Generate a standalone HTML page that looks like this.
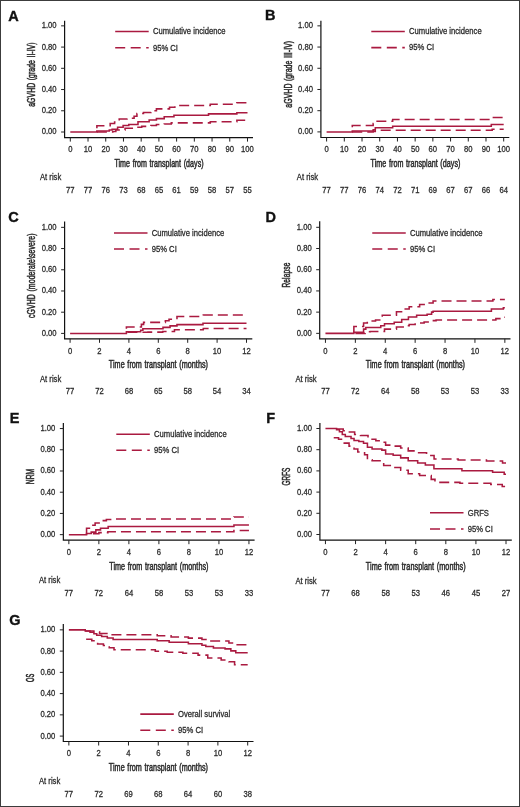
<!DOCTYPE html>
<html><head><meta charset="utf-8"><style>
html,body{margin:0;padding:0;background:#fff;}
body{width:520px;height:807px;overflow:hidden;}
svg{display:block;font-family:"Liberation Sans",sans-serif;will-change:transform;}
</style></head><body>
<svg width="520" height="807" viewBox="0 0 520 807">
<rect x="0.5" y="0.5" width="519" height="806" fill="#fff" stroke="#3c3c3c" stroke-width="1"/>
<text x="8.3" y="20.7" font-size="14.5" fill="#111" font-weight="bold" stroke="#111" stroke-width="0.35" >A</text>
<path d="M64.6 20.8V137.6H253" fill="none" stroke="#111" stroke-width="1.2"/>
<text transform="translate(56.6 134.47) scale(1 1.08)" font-size="7.65" text-anchor="end" fill="#2b2b2b" stroke="#2b2b2b" stroke-width="0.25" >0.00</text>
<text transform="translate(56.6 113.24) scale(1 1.08)" font-size="7.65" text-anchor="end" fill="#2b2b2b" stroke="#2b2b2b" stroke-width="0.25" >0.20</text>
<text transform="translate(56.6 92.01) scale(1 1.08)" font-size="7.65" text-anchor="end" fill="#2b2b2b" stroke="#2b2b2b" stroke-width="0.25" >0.40</text>
<text transform="translate(56.6 70.78) scale(1 1.08)" font-size="7.65" text-anchor="end" fill="#2b2b2b" stroke="#2b2b2b" stroke-width="0.25" >0.60</text>
<text transform="translate(56.6 49.55) scale(1 1.08)" font-size="7.65" text-anchor="end" fill="#2b2b2b" stroke="#2b2b2b" stroke-width="0.25" >0.80</text>
<text transform="translate(56.6 28.32) scale(1 1.08)" font-size="7.65" text-anchor="end" fill="#2b2b2b" stroke="#2b2b2b" stroke-width="0.25" >1.00</text>
<text transform="translate(70.3 152.27) scale(1 1.08)" font-size="7.65" text-anchor="middle" fill="#2b2b2b" stroke="#2b2b2b" stroke-width="0.25" >0</text>
<text transform="translate(70.3 192.87) scale(1 1.08)" font-size="7.65" text-anchor="middle" fill="#2b2b2b" stroke="#2b2b2b" stroke-width="0.25" >77</text>
<text transform="translate(88.02 152.27) scale(1 1.08)" font-size="7.65" text-anchor="middle" fill="#2b2b2b" stroke="#2b2b2b" stroke-width="0.25" >10</text>
<text transform="translate(88.02 192.87) scale(1 1.08)" font-size="7.65" text-anchor="middle" fill="#2b2b2b" stroke="#2b2b2b" stroke-width="0.25" >77</text>
<text transform="translate(105.74 152.27) scale(1 1.08)" font-size="7.65" text-anchor="middle" fill="#2b2b2b" stroke="#2b2b2b" stroke-width="0.25" >20</text>
<text transform="translate(105.74 192.87) scale(1 1.08)" font-size="7.65" text-anchor="middle" fill="#2b2b2b" stroke="#2b2b2b" stroke-width="0.25" >76</text>
<text transform="translate(123.46 152.27) scale(1 1.08)" font-size="7.65" text-anchor="middle" fill="#2b2b2b" stroke="#2b2b2b" stroke-width="0.25" >30</text>
<text transform="translate(123.46 192.87) scale(1 1.08)" font-size="7.65" text-anchor="middle" fill="#2b2b2b" stroke="#2b2b2b" stroke-width="0.25" >73</text>
<text transform="translate(141.18 152.27) scale(1 1.08)" font-size="7.65" text-anchor="middle" fill="#2b2b2b" stroke="#2b2b2b" stroke-width="0.25" >40</text>
<text transform="translate(141.18 192.87) scale(1 1.08)" font-size="7.65" text-anchor="middle" fill="#2b2b2b" stroke="#2b2b2b" stroke-width="0.25" >68</text>
<text transform="translate(158.9 152.27) scale(1 1.08)" font-size="7.65" text-anchor="middle" fill="#2b2b2b" stroke="#2b2b2b" stroke-width="0.25" >50</text>
<text transform="translate(158.9 192.87) scale(1 1.08)" font-size="7.65" text-anchor="middle" fill="#2b2b2b" stroke="#2b2b2b" stroke-width="0.25" >65</text>
<text transform="translate(176.62 152.27) scale(1 1.08)" font-size="7.65" text-anchor="middle" fill="#2b2b2b" stroke="#2b2b2b" stroke-width="0.25" >60</text>
<text transform="translate(176.62 192.87) scale(1 1.08)" font-size="7.65" text-anchor="middle" fill="#2b2b2b" stroke="#2b2b2b" stroke-width="0.25" >61</text>
<text transform="translate(194.34 152.27) scale(1 1.08)" font-size="7.65" text-anchor="middle" fill="#2b2b2b" stroke="#2b2b2b" stroke-width="0.25" >70</text>
<text transform="translate(194.34 192.87) scale(1 1.08)" font-size="7.65" text-anchor="middle" fill="#2b2b2b" stroke="#2b2b2b" stroke-width="0.25" >59</text>
<text transform="translate(212.06 152.27) scale(1 1.08)" font-size="7.65" text-anchor="middle" fill="#2b2b2b" stroke="#2b2b2b" stroke-width="0.25" >80</text>
<text transform="translate(212.06 192.87) scale(1 1.08)" font-size="7.65" text-anchor="middle" fill="#2b2b2b" stroke="#2b2b2b" stroke-width="0.25" >58</text>
<text transform="translate(229.78 152.27) scale(1 1.08)" font-size="7.65" text-anchor="middle" fill="#2b2b2b" stroke="#2b2b2b" stroke-width="0.25" >90</text>
<text transform="translate(229.78 192.87) scale(1 1.08)" font-size="7.65" text-anchor="middle" fill="#2b2b2b" stroke="#2b2b2b" stroke-width="0.25" >57</text>
<text transform="translate(247.5 152.27) scale(1 1.08)" font-size="7.65" text-anchor="middle" fill="#2b2b2b" stroke="#2b2b2b" stroke-width="0.25" >100</text>
<text transform="translate(247.5 192.87) scale(1 1.08)" font-size="7.65" text-anchor="middle" fill="#2b2b2b" stroke="#2b2b2b" stroke-width="0.25" >55</text>
<path d="M61.1 132H64.6M61.1 110.77H64.6M61.1 89.54H64.6M61.1 68.31H64.6M61.1 47.08H64.6M61.1 25.85H64.6M70.3 137.6V141.6M88.02 137.6V141.6M105.74 137.6V141.6M123.46 137.6V141.6M141.18 137.6V141.6M158.9 137.6V141.6M176.62 137.6V141.6M194.34 137.6V141.6M212.06 137.6V141.6M229.78 137.6V141.6M247.5 137.6V141.6" fill="none" stroke="#222" stroke-width="1"/>
<text transform="translate(40 180.47) scale(1 1.08)" font-size="7.65" fill="#2b2b2b" stroke="#2b2b2b" stroke-width="0.25" >At risk</text>
<text transform="translate(114.4 166.7) scale(0.7099 1)" font-size="10.0" fill="#2b2b2b" stroke="#2b2b2b" stroke-width="0.493" word-spacing="0.8" textLength="125.65" lengthAdjust="spacing">Time from transplant (days)</text>
<text transform="translate(34.6 106.8) rotate(-90) scale(0.6897 1)" font-size="10.0" fill="#2b2b2b" stroke="#2b2b2b" stroke-width="0.507" word-spacing="0.8" textLength="93.38" lengthAdjust="spacing">aGVHD (grade II-IV)</text>
<path d="M115.2 31.5H148.7" stroke="#aa1a40" stroke-width="1.55" fill="none"/>
<path d="M115.2 47.7H148.7" stroke="#aa1a40" stroke-width="1.55" fill="none" stroke-dasharray="10 5.5"/>
<text transform="translate(152.9 34.37) scale(1 1.08)" font-size="7.65" fill="#2b2b2b" stroke="#2b2b2b" stroke-width="0.25" >Cumulative incidence</text>
<text transform="translate(152.9 50.57) scale(1 1.08)" font-size="7.65" fill="#2b2b2b" stroke="#2b2b2b" stroke-width="0.25" >95% CI</text>
<path d="M96.88 128.28H96.88V125.84H110.17V123.51H114.6V121.92H119.21V119.05H127V118.2H134.09V116.29H136.93V113.53H143.48V112.57H150.93V110.77H156.42V108.86H169.53V107.16H174.85V105.57H210.29V104.19H236.87V102.81H247.5" stroke="#aa1a40" stroke-width="1.55" fill="none" stroke-dasharray="10 5"/>
<path d="M96.88 132H112.83V131.47H115.84V129.98H125.05V128.18H134.09V127.33H141.71V126.37H150.93V125.52H156.42V124.57H164.22V123.93H171.3V122.87H210.29V121.7H236.87V120.32H247.5" stroke="#aa1a40" stroke-width="1.55" fill="none" stroke-dasharray="10 5"/>
<path d="M70.3 132H96.88V130.94H109.28V130.09H112.12V129.24H117.61V127.33H123.11V125.52H128.78V124.57H137.99V121.81H149.15V120.01H156.42V118.63H164.22V116.82H173.96V115.23H208.52V113.85H236.87V112.68H247.5" stroke="#aa1a40" stroke-width="1.55" fill="none"/>
<text x="265.1" y="20.4" font-size="14.5" fill="#111" font-weight="bold" stroke="#111" stroke-width="0.35" >B</text>
<path d="M320.9 20.8V137.5H509.3" fill="none" stroke="#111" stroke-width="1.2"/>
<text transform="translate(312.9 134.37) scale(1 1.08)" font-size="7.65" text-anchor="end" fill="#2b2b2b" stroke="#2b2b2b" stroke-width="0.25" >0.00</text>
<text transform="translate(312.9 113.16) scale(1 1.08)" font-size="7.65" text-anchor="end" fill="#2b2b2b" stroke="#2b2b2b" stroke-width="0.25" >0.20</text>
<text transform="translate(312.9 91.95) scale(1 1.08)" font-size="7.65" text-anchor="end" fill="#2b2b2b" stroke="#2b2b2b" stroke-width="0.25" >0.40</text>
<text transform="translate(312.9 70.74) scale(1 1.08)" font-size="7.65" text-anchor="end" fill="#2b2b2b" stroke="#2b2b2b" stroke-width="0.25" >0.60</text>
<text transform="translate(312.9 49.53) scale(1 1.08)" font-size="7.65" text-anchor="end" fill="#2b2b2b" stroke="#2b2b2b" stroke-width="0.25" >0.80</text>
<text transform="translate(312.9 28.32) scale(1 1.08)" font-size="7.65" text-anchor="end" fill="#2b2b2b" stroke="#2b2b2b" stroke-width="0.25" >1.00</text>
<text transform="translate(326.6 152.27) scale(1 1.08)" font-size="7.65" text-anchor="middle" fill="#2b2b2b" stroke="#2b2b2b" stroke-width="0.25" >0</text>
<text transform="translate(326.6 192.87) scale(1 1.08)" font-size="7.65" text-anchor="middle" fill="#2b2b2b" stroke="#2b2b2b" stroke-width="0.25" >77</text>
<text transform="translate(344.31 152.27) scale(1 1.08)" font-size="7.65" text-anchor="middle" fill="#2b2b2b" stroke="#2b2b2b" stroke-width="0.25" >10</text>
<text transform="translate(344.31 192.87) scale(1 1.08)" font-size="7.65" text-anchor="middle" fill="#2b2b2b" stroke="#2b2b2b" stroke-width="0.25" >77</text>
<text transform="translate(362.02 152.27) scale(1 1.08)" font-size="7.65" text-anchor="middle" fill="#2b2b2b" stroke="#2b2b2b" stroke-width="0.25" >20</text>
<text transform="translate(362.02 192.87) scale(1 1.08)" font-size="7.65" text-anchor="middle" fill="#2b2b2b" stroke="#2b2b2b" stroke-width="0.25" >76</text>
<text transform="translate(379.73 152.27) scale(1 1.08)" font-size="7.65" text-anchor="middle" fill="#2b2b2b" stroke="#2b2b2b" stroke-width="0.25" >30</text>
<text transform="translate(379.73 192.87) scale(1 1.08)" font-size="7.65" text-anchor="middle" fill="#2b2b2b" stroke="#2b2b2b" stroke-width="0.25" >74</text>
<text transform="translate(397.44 152.27) scale(1 1.08)" font-size="7.65" text-anchor="middle" fill="#2b2b2b" stroke="#2b2b2b" stroke-width="0.25" >40</text>
<text transform="translate(397.44 192.87) scale(1 1.08)" font-size="7.65" text-anchor="middle" fill="#2b2b2b" stroke="#2b2b2b" stroke-width="0.25" >72</text>
<text transform="translate(415.15 152.27) scale(1 1.08)" font-size="7.65" text-anchor="middle" fill="#2b2b2b" stroke="#2b2b2b" stroke-width="0.25" >50</text>
<text transform="translate(415.15 192.87) scale(1 1.08)" font-size="7.65" text-anchor="middle" fill="#2b2b2b" stroke="#2b2b2b" stroke-width="0.25" >71</text>
<text transform="translate(432.86 152.27) scale(1 1.08)" font-size="7.65" text-anchor="middle" fill="#2b2b2b" stroke="#2b2b2b" stroke-width="0.25" >60</text>
<text transform="translate(432.86 192.87) scale(1 1.08)" font-size="7.65" text-anchor="middle" fill="#2b2b2b" stroke="#2b2b2b" stroke-width="0.25" >69</text>
<text transform="translate(450.57 152.27) scale(1 1.08)" font-size="7.65" text-anchor="middle" fill="#2b2b2b" stroke="#2b2b2b" stroke-width="0.25" >70</text>
<text transform="translate(450.57 192.87) scale(1 1.08)" font-size="7.65" text-anchor="middle" fill="#2b2b2b" stroke="#2b2b2b" stroke-width="0.25" >67</text>
<text transform="translate(468.28 152.27) scale(1 1.08)" font-size="7.65" text-anchor="middle" fill="#2b2b2b" stroke="#2b2b2b" stroke-width="0.25" >80</text>
<text transform="translate(468.28 192.87) scale(1 1.08)" font-size="7.65" text-anchor="middle" fill="#2b2b2b" stroke="#2b2b2b" stroke-width="0.25" >67</text>
<text transform="translate(485.99 152.27) scale(1 1.08)" font-size="7.65" text-anchor="middle" fill="#2b2b2b" stroke="#2b2b2b" stroke-width="0.25" >90</text>
<text transform="translate(485.99 192.87) scale(1 1.08)" font-size="7.65" text-anchor="middle" fill="#2b2b2b" stroke="#2b2b2b" stroke-width="0.25" >66</text>
<text transform="translate(503.7 152.27) scale(1 1.08)" font-size="7.65" text-anchor="middle" fill="#2b2b2b" stroke="#2b2b2b" stroke-width="0.25" >100</text>
<text transform="translate(503.7 192.87) scale(1 1.08)" font-size="7.65" text-anchor="middle" fill="#2b2b2b" stroke="#2b2b2b" stroke-width="0.25" >64</text>
<path d="M317.4 131.9H320.9M317.4 110.69H320.9M317.4 89.48H320.9M317.4 68.27H320.9M317.4 47.06H320.9M317.4 25.85H320.9M326.6 137.5V141.5M344.31 137.5V141.5M362.02 137.5V141.5M379.73 137.5V141.5M397.44 137.5V141.5M415.15 137.5V141.5M432.86 137.5V141.5M450.57 137.5V141.5M468.28 137.5V141.5M485.99 137.5V141.5M503.7 137.5V141.5" fill="none" stroke="#222" stroke-width="1"/>
<text transform="translate(296.8 180.47) scale(1 1.08)" font-size="7.65" fill="#2b2b2b" stroke="#2b2b2b" stroke-width="0.25" >At risk</text>
<text transform="translate(370.6 166.7) scale(0.7147 1)" font-size="10.0" fill="#2b2b2b" stroke="#2b2b2b" stroke-width="0.490" word-spacing="0.8" textLength="125.65" lengthAdjust="spacing">Time from transplant (days)</text>
<text transform="translate(291.6 107.7) rotate(-90) scale(0.6951 1)" font-size="10.0" fill="#2b2b2b" stroke="#2b2b2b" stroke-width="0.504" word-spacing="0.8" textLength="96.24" lengthAdjust="spacing">aGVHD (grade III-IV)</text>
<path d="M371.3 31.55H404.8" stroke="#aa1a40" stroke-width="1.55" fill="none"/>
<path d="M371.3 47.6H404.8" stroke="#aa1a40" stroke-width="1.55" fill="none" stroke-dasharray="10 5.5"/>
<text transform="translate(409 34.42) scale(1 1.08)" font-size="7.65" fill="#2b2b2b" stroke="#2b2b2b" stroke-width="0.25" >Cumulative incidence</text>
<text transform="translate(409 50.47) scale(1 1.08)" font-size="7.65" fill="#2b2b2b" stroke="#2b2b2b" stroke-width="0.25" >95% CI</text>
<path d="M352.28 127.13H352.28V125.54H373.18V123.42H375.3V121.19H392.66V119.49H492.19V117.48H503.7" stroke="#aa1a40" stroke-width="1.55" fill="none" stroke-dasharray="10 5"/>
<path d="M352.28 131.9H373.18V131.37H375.3V130.63H379.73V130.31H492.19V129.25H503.7" stroke="#aa1a40" stroke-width="1.55" fill="none" stroke-dasharray="10 5"/>
<path d="M326.6 131.9H352.28V131.05H373.18V129.78H375.3V127.76H392.66V126.17H491.3V124.58H503.7" stroke="#aa1a40" stroke-width="1.55" fill="none"/>
<text x="8.15" y="222.3" font-size="14.5" fill="#111" font-weight="bold" stroke="#111" stroke-width="0.35" >C</text>
<path d="M64.6 221.5V338.8H252.3" fill="none" stroke="#111" stroke-width="1.2"/>
<text transform="translate(56.6 335.87) scale(1 1.08)" font-size="7.65" text-anchor="end" fill="#2b2b2b" stroke="#2b2b2b" stroke-width="0.25" >0.00</text>
<text transform="translate(56.6 314.66) scale(1 1.08)" font-size="7.65" text-anchor="end" fill="#2b2b2b" stroke="#2b2b2b" stroke-width="0.25" >0.20</text>
<text transform="translate(56.6 293.45) scale(1 1.08)" font-size="7.65" text-anchor="end" fill="#2b2b2b" stroke="#2b2b2b" stroke-width="0.25" >0.40</text>
<text transform="translate(56.6 272.24) scale(1 1.08)" font-size="7.65" text-anchor="end" fill="#2b2b2b" stroke="#2b2b2b" stroke-width="0.25" >0.60</text>
<text transform="translate(56.6 251.03) scale(1 1.08)" font-size="7.65" text-anchor="end" fill="#2b2b2b" stroke="#2b2b2b" stroke-width="0.25" >0.80</text>
<text transform="translate(56.6 229.82) scale(1 1.08)" font-size="7.65" text-anchor="end" fill="#2b2b2b" stroke="#2b2b2b" stroke-width="0.25" >1.00</text>
<text transform="translate(70.1 353.97) scale(1 1.08)" font-size="7.65" text-anchor="middle" fill="#2b2b2b" stroke="#2b2b2b" stroke-width="0.25" >0</text>
<text transform="translate(70.1 394.47) scale(1 1.08)" font-size="7.65" text-anchor="middle" fill="#2b2b2b" stroke="#2b2b2b" stroke-width="0.25" >77</text>
<text transform="translate(99.5 353.97) scale(1 1.08)" font-size="7.65" text-anchor="middle" fill="#2b2b2b" stroke="#2b2b2b" stroke-width="0.25" >2</text>
<text transform="translate(99.5 394.47) scale(1 1.08)" font-size="7.65" text-anchor="middle" fill="#2b2b2b" stroke="#2b2b2b" stroke-width="0.25" >72</text>
<text transform="translate(128.9 353.97) scale(1 1.08)" font-size="7.65" text-anchor="middle" fill="#2b2b2b" stroke="#2b2b2b" stroke-width="0.25" >4</text>
<text transform="translate(128.9 394.47) scale(1 1.08)" font-size="7.65" text-anchor="middle" fill="#2b2b2b" stroke="#2b2b2b" stroke-width="0.25" >68</text>
<text transform="translate(158.3 353.97) scale(1 1.08)" font-size="7.65" text-anchor="middle" fill="#2b2b2b" stroke="#2b2b2b" stroke-width="0.25" >6</text>
<text transform="translate(158.3 394.47) scale(1 1.08)" font-size="7.65" text-anchor="middle" fill="#2b2b2b" stroke="#2b2b2b" stroke-width="0.25" >65</text>
<text transform="translate(187.7 353.97) scale(1 1.08)" font-size="7.65" text-anchor="middle" fill="#2b2b2b" stroke="#2b2b2b" stroke-width="0.25" >8</text>
<text transform="translate(187.7 394.47) scale(1 1.08)" font-size="7.65" text-anchor="middle" fill="#2b2b2b" stroke="#2b2b2b" stroke-width="0.25" >58</text>
<text transform="translate(217.1 353.97) scale(1 1.08)" font-size="7.65" text-anchor="middle" fill="#2b2b2b" stroke="#2b2b2b" stroke-width="0.25" >10</text>
<text transform="translate(217.1 394.47) scale(1 1.08)" font-size="7.65" text-anchor="middle" fill="#2b2b2b" stroke="#2b2b2b" stroke-width="0.25" >54</text>
<text transform="translate(246.5 353.97) scale(1 1.08)" font-size="7.65" text-anchor="middle" fill="#2b2b2b" stroke="#2b2b2b" stroke-width="0.25" >12</text>
<text transform="translate(246.5 394.47) scale(1 1.08)" font-size="7.65" text-anchor="middle" fill="#2b2b2b" stroke="#2b2b2b" stroke-width="0.25" >34</text>
<path d="M61.1 333.4H64.6M61.1 312.19H64.6M61.1 290.98H64.6M61.1 269.77H64.6M61.1 248.56H64.6M61.1 227.35H64.6M70.1 338.8V342.8M99.5 338.8V342.8M128.9 338.8V342.8M158.3 338.8V342.8M187.7 338.8V342.8M217.1 338.8V342.8M246.5 338.8V342.8" fill="none" stroke="#222" stroke-width="1"/>
<text transform="translate(40 382.27) scale(1 1.08)" font-size="7.65" fill="#2b2b2b" stroke="#2b2b2b" stroke-width="0.25" >At risk</text>
<text transform="translate(108.8 368) scale(0.7205 1)" font-size="10.0" fill="#2b2b2b" stroke="#2b2b2b" stroke-width="0.486" word-spacing="0.8" textLength="137.68" lengthAdjust="spacing">Time from transplant (months)</text>
<text transform="translate(34.9 318.1) rotate(-90) scale(0.6941 1)" font-size="10.0" fill="#2b2b2b" stroke="#2b2b2b" stroke-width="0.504" word-spacing="0.8" textLength="122.02" lengthAdjust="spacing">cGVHD (moderate\severe)</text>
<path d="M114 232.9H147.5" stroke="#aa1a40" stroke-width="1.55" fill="none"/>
<path d="M114 249H147.5" stroke="#aa1a40" stroke-width="1.55" fill="none" stroke-dasharray="10 5.5"/>
<text transform="translate(151.7 235.77) scale(1 1.08)" font-size="7.65" fill="#2b2b2b" stroke="#2b2b2b" stroke-width="0.25" >Cumulative incidence</text>
<text transform="translate(151.7 251.87) scale(1 1.08)" font-size="7.65" fill="#2b2b2b" stroke="#2b2b2b" stroke-width="0.25" >95% CI</text>
<path d="M126.4 328.63H126.4V326.93H141.39V324.39H143.6V322.37H165.36V320.78H169.03V319.3H173V318.45H176.97V316.54H203.28V315.05H246.5" stroke="#aa1a40" stroke-width="1.55" fill="none" stroke-dasharray="10 5"/>
<path d="M127.43 332.34H148.01V332.13H162.71V331.49H174.47V329.79H203.28V328.52H246.5" stroke="#aa1a40" stroke-width="1.55" fill="none" stroke-dasharray="10 5"/>
<path d="M70.1 333.4H126.4V331.7H140.66V330.22H142.87V328.84H163V327.36H170.06V325.87H176.97V324.6H202.99V323.33H246.5" stroke="#aa1a40" stroke-width="1.55" fill="none"/>
<text x="265.5" y="221.85" font-size="14.5" fill="#111" font-weight="bold" stroke="#111" stroke-width="0.35" >D</text>
<path d="M319.7 221.2V338.85H510.5" fill="none" stroke="#111" stroke-width="1.2"/>
<text transform="translate(311.7 335.82) scale(1 1.08)" font-size="7.65" text-anchor="end" fill="#2b2b2b" stroke="#2b2b2b" stroke-width="0.25" >0.00</text>
<text transform="translate(311.7 314.61) scale(1 1.08)" font-size="7.65" text-anchor="end" fill="#2b2b2b" stroke="#2b2b2b" stroke-width="0.25" >0.20</text>
<text transform="translate(311.7 293.4) scale(1 1.08)" font-size="7.65" text-anchor="end" fill="#2b2b2b" stroke="#2b2b2b" stroke-width="0.25" >0.40</text>
<text transform="translate(311.7 272.19) scale(1 1.08)" font-size="7.65" text-anchor="end" fill="#2b2b2b" stroke="#2b2b2b" stroke-width="0.25" >0.60</text>
<text transform="translate(311.7 250.98) scale(1 1.08)" font-size="7.65" text-anchor="end" fill="#2b2b2b" stroke="#2b2b2b" stroke-width="0.25" >0.80</text>
<text transform="translate(311.7 229.77) scale(1 1.08)" font-size="7.65" text-anchor="end" fill="#2b2b2b" stroke="#2b2b2b" stroke-width="0.25" >1.00</text>
<text transform="translate(325.45 353.67) scale(1 1.08)" font-size="7.65" text-anchor="middle" fill="#2b2b2b" stroke="#2b2b2b" stroke-width="0.25" >0</text>
<text transform="translate(325.45 394.27) scale(1 1.08)" font-size="7.65" text-anchor="middle" fill="#2b2b2b" stroke="#2b2b2b" stroke-width="0.25" >77</text>
<text transform="translate(355.35 353.67) scale(1 1.08)" font-size="7.65" text-anchor="middle" fill="#2b2b2b" stroke="#2b2b2b" stroke-width="0.25" >2</text>
<text transform="translate(355.35 394.27) scale(1 1.08)" font-size="7.65" text-anchor="middle" fill="#2b2b2b" stroke="#2b2b2b" stroke-width="0.25" >72</text>
<text transform="translate(385.25 353.67) scale(1 1.08)" font-size="7.65" text-anchor="middle" fill="#2b2b2b" stroke="#2b2b2b" stroke-width="0.25" >4</text>
<text transform="translate(385.25 394.27) scale(1 1.08)" font-size="7.65" text-anchor="middle" fill="#2b2b2b" stroke="#2b2b2b" stroke-width="0.25" >64</text>
<text transform="translate(415.15 353.67) scale(1 1.08)" font-size="7.65" text-anchor="middle" fill="#2b2b2b" stroke="#2b2b2b" stroke-width="0.25" >6</text>
<text transform="translate(415.15 394.27) scale(1 1.08)" font-size="7.65" text-anchor="middle" fill="#2b2b2b" stroke="#2b2b2b" stroke-width="0.25" >58</text>
<text transform="translate(445.05 353.67) scale(1 1.08)" font-size="7.65" text-anchor="middle" fill="#2b2b2b" stroke="#2b2b2b" stroke-width="0.25" >8</text>
<text transform="translate(445.05 394.27) scale(1 1.08)" font-size="7.65" text-anchor="middle" fill="#2b2b2b" stroke="#2b2b2b" stroke-width="0.25" >53</text>
<text transform="translate(474.95 353.67) scale(1 1.08)" font-size="7.65" text-anchor="middle" fill="#2b2b2b" stroke="#2b2b2b" stroke-width="0.25" >10</text>
<text transform="translate(474.95 394.27) scale(1 1.08)" font-size="7.65" text-anchor="middle" fill="#2b2b2b" stroke="#2b2b2b" stroke-width="0.25" >53</text>
<text transform="translate(504.85 353.67) scale(1 1.08)" font-size="7.65" text-anchor="middle" fill="#2b2b2b" stroke="#2b2b2b" stroke-width="0.25" >12</text>
<text transform="translate(504.85 394.27) scale(1 1.08)" font-size="7.65" text-anchor="middle" fill="#2b2b2b" stroke="#2b2b2b" stroke-width="0.25" >33</text>
<path d="M316.2 333.35H319.7M316.2 312.14H319.7M316.2 290.93H319.7M316.2 269.72H319.7M316.2 248.51H319.7M316.2 227.3H319.7M325.45 338.85V342.85M355.35 338.85V342.85M385.25 338.85V342.85M415.15 338.85V342.85M445.05 338.85V342.85M474.95 338.85V342.85M504.85 338.85V342.85" fill="none" stroke="#222" stroke-width="1"/>
<text transform="translate(295.4 382.17) scale(1 1.08)" font-size="7.65" fill="#2b2b2b" stroke="#2b2b2b" stroke-width="0.25" >At risk</text>
<text transform="translate(365.8 368) scale(0.7205 1)" font-size="10.0" fill="#2b2b2b" stroke="#2b2b2b" stroke-width="0.486" word-spacing="0.8" textLength="137.68" lengthAdjust="spacing">Time from transplant (months)</text>
<text transform="translate(290 287.5) rotate(-90) scale(0.6557 1)" font-size="10.0" fill="#2b2b2b" stroke="#2b2b2b" stroke-width="0.534" word-spacing="0.8" textLength="37.82" lengthAdjust="spacing">Relapse</text>
<path d="M372.25 232.9H405.75" stroke="#aa1a40" stroke-width="1.55" fill="none"/>
<path d="M372.25 249H405.75" stroke="#aa1a40" stroke-width="1.55" fill="none" stroke-dasharray="10 5.5"/>
<text transform="translate(409.95 235.77) scale(1 1.08)" font-size="7.65" fill="#2b2b2b" stroke="#2b2b2b" stroke-width="0.25" >Cumulative incidence</text>
<text transform="translate(409.95 251.87) scale(1 1.08)" font-size="7.65" fill="#2b2b2b" stroke="#2b2b2b" stroke-width="0.25" >95% CI</text>
<path d="M353.86 333.35H353.86V326.46H363.57V323.06H367.31V320.94H375.53V319.99H382.26V315.32H396.46V311.82H403.19V308.96H409.17V306.84H419.63V304.4H427.11V302.91H433.09V301H492.89V299.41H504.85" stroke="#aa1a40" stroke-width="1.55" fill="none" stroke-dasharray="10 5"/>
<path d="M355.35 333.35H365.07V331.76H370.3V331.44H384.5V329.11H396.46V326.99H403.19V325.71H409.17V324.55H415.15V322.96H424.12V321.9H430.85V320.62H436.08V320.09H495.88V318.61H503.36V317.23H504.85" stroke="#aa1a40" stroke-width="1.55" fill="none" stroke-dasharray="10 5"/>
<path d="M325.45 333.35H353.86V332.29H363.57V329.11H365.81V327.41H380.76V325.71H384.5V323.81H394.22V322.21H401.69V319.56H408.42V316.91H416.64V315.32H427.11V314.26H431.6V312.14H433.09V311.29H491.39V308.96H503.36V307.69H504.85" stroke="#aa1a40" stroke-width="1.55" fill="none"/>
<text x="9.8" y="423.45" font-size="14.5" fill="#111" font-weight="bold" stroke="#111" stroke-width="0.35" >E</text>
<path d="M63.35 422.9V540.2H254.6" fill="none" stroke="#111" stroke-width="1.2"/>
<text transform="translate(55.35 537.12) scale(1 1.08)" font-size="7.65" text-anchor="end" fill="#2b2b2b" stroke="#2b2b2b" stroke-width="0.25" >0.00</text>
<text transform="translate(55.35 515.9) scale(1 1.08)" font-size="7.65" text-anchor="end" fill="#2b2b2b" stroke="#2b2b2b" stroke-width="0.25" >0.20</text>
<text transform="translate(55.35 494.68) scale(1 1.08)" font-size="7.65" text-anchor="end" fill="#2b2b2b" stroke="#2b2b2b" stroke-width="0.25" >0.40</text>
<text transform="translate(55.35 473.46) scale(1 1.08)" font-size="7.65" text-anchor="end" fill="#2b2b2b" stroke="#2b2b2b" stroke-width="0.25" >0.60</text>
<text transform="translate(55.35 452.24) scale(1 1.08)" font-size="7.65" text-anchor="end" fill="#2b2b2b" stroke="#2b2b2b" stroke-width="0.25" >0.80</text>
<text transform="translate(55.35 431.02) scale(1 1.08)" font-size="7.65" text-anchor="end" fill="#2b2b2b" stroke="#2b2b2b" stroke-width="0.25" >1.00</text>
<text transform="translate(68.85 555.27) scale(1 1.08)" font-size="7.65" text-anchor="middle" fill="#2b2b2b" stroke="#2b2b2b" stroke-width="0.25" >0</text>
<text transform="translate(68.85 596.07) scale(1 1.08)" font-size="7.65" text-anchor="middle" fill="#2b2b2b" stroke="#2b2b2b" stroke-width="0.25" >77</text>
<text transform="translate(98.87 555.27) scale(1 1.08)" font-size="7.65" text-anchor="middle" fill="#2b2b2b" stroke="#2b2b2b" stroke-width="0.25" >2</text>
<text transform="translate(98.87 596.07) scale(1 1.08)" font-size="7.65" text-anchor="middle" fill="#2b2b2b" stroke="#2b2b2b" stroke-width="0.25" >72</text>
<text transform="translate(128.88 555.27) scale(1 1.08)" font-size="7.65" text-anchor="middle" fill="#2b2b2b" stroke="#2b2b2b" stroke-width="0.25" >4</text>
<text transform="translate(128.88 596.07) scale(1 1.08)" font-size="7.65" text-anchor="middle" fill="#2b2b2b" stroke="#2b2b2b" stroke-width="0.25" >64</text>
<text transform="translate(158.9 555.27) scale(1 1.08)" font-size="7.65" text-anchor="middle" fill="#2b2b2b" stroke="#2b2b2b" stroke-width="0.25" >6</text>
<text transform="translate(158.9 596.07) scale(1 1.08)" font-size="7.65" text-anchor="middle" fill="#2b2b2b" stroke="#2b2b2b" stroke-width="0.25" >58</text>
<text transform="translate(188.92 555.27) scale(1 1.08)" font-size="7.65" text-anchor="middle" fill="#2b2b2b" stroke="#2b2b2b" stroke-width="0.25" >8</text>
<text transform="translate(188.92 596.07) scale(1 1.08)" font-size="7.65" text-anchor="middle" fill="#2b2b2b" stroke="#2b2b2b" stroke-width="0.25" >53</text>
<text transform="translate(218.93 555.27) scale(1 1.08)" font-size="7.65" text-anchor="middle" fill="#2b2b2b" stroke="#2b2b2b" stroke-width="0.25" >10</text>
<text transform="translate(218.93 596.07) scale(1 1.08)" font-size="7.65" text-anchor="middle" fill="#2b2b2b" stroke="#2b2b2b" stroke-width="0.25" >53</text>
<text transform="translate(248.95 555.27) scale(1 1.08)" font-size="7.65" text-anchor="middle" fill="#2b2b2b" stroke="#2b2b2b" stroke-width="0.25" >12</text>
<text transform="translate(248.95 596.07) scale(1 1.08)" font-size="7.65" text-anchor="middle" fill="#2b2b2b" stroke="#2b2b2b" stroke-width="0.25" >33</text>
<path d="M59.85 534.65H63.35M59.85 513.43H63.35M59.85 492.21H63.35M59.85 470.99H63.35M59.85 449.77H63.35M59.85 428.55H63.35M68.85 540.2V544.2M98.87 540.2V544.2M128.88 540.2V544.2M158.9 540.2V544.2M188.92 540.2V544.2M218.93 540.2V544.2M248.95 540.2V544.2" fill="none" stroke="#222" stroke-width="1"/>
<text transform="translate(39 583.47) scale(1 1.08)" font-size="7.65" fill="#2b2b2b" stroke="#2b2b2b" stroke-width="0.25" >At risk</text>
<text transform="translate(109.2 569.6) scale(0.7213 1)" font-size="10.0" fill="#2b2b2b" stroke="#2b2b2b" stroke-width="0.485" word-spacing="0.8" textLength="137.68" lengthAdjust="spacing">Time from transplant (months)</text>
<text transform="translate(33.6 484.2) rotate(-90) scale(0.6762 1)" font-size="10.0" fill="#2b2b2b" stroke="#2b2b2b" stroke-width="0.518" word-spacing="0.8" textLength="22.77" lengthAdjust="spacing">NRM</text>
<path d="M116.3 434.2H149.8" stroke="#aa1a40" stroke-width="1.55" fill="none"/>
<path d="M116.3 450.25H149.8" stroke="#aa1a40" stroke-width="1.55" fill="none" stroke-dasharray="10 5.5"/>
<text transform="translate(154 437.07) scale(1 1.08)" font-size="7.65" fill="#2b2b2b" stroke="#2b2b2b" stroke-width="0.25" >Cumulative incidence</text>
<text transform="translate(154 453.12) scale(1 1.08)" font-size="7.65" fill="#2b2b2b" stroke="#2b2b2b" stroke-width="0.25" >95% CI</text>
<path d="M86.56 534.65H86.56V528.28H91.21V525.21H95.11V522.98H100.52V520.64H106.37V519.48H112.37V519.05H233.94V516.93H248.95" stroke="#aa1a40" stroke-width="1.55" fill="none" stroke-dasharray="10 5"/>
<path d="M92.86 533.7H98.87V532.63H107.87V531.79H233.94V530.51H248.95" stroke="#aa1a40" stroke-width="1.55" fill="none" stroke-dasharray="10 5"/>
<path d="M68.85 534.65H86.56V533.59H91.21V532.1H95.86V529.88H100.52V528.28H108.17V526.48H233.94V524.99H248.95" stroke="#aa1a40" stroke-width="1.55" fill="none"/>
<text x="266.2" y="423.15" font-size="14.5" fill="#111" font-weight="bold" stroke="#111" stroke-width="0.35" >F</text>
<path d="M319.9 422.9V540.15H511.8" fill="none" stroke="#111" stroke-width="1.2"/>
<text transform="translate(311.9 536.97) scale(1 1.08)" font-size="7.65" text-anchor="end" fill="#2b2b2b" stroke="#2b2b2b" stroke-width="0.25" >0.00</text>
<text transform="translate(311.9 515.77) scale(1 1.08)" font-size="7.65" text-anchor="end" fill="#2b2b2b" stroke="#2b2b2b" stroke-width="0.25" >0.20</text>
<text transform="translate(311.9 494.57) scale(1 1.08)" font-size="7.65" text-anchor="end" fill="#2b2b2b" stroke="#2b2b2b" stroke-width="0.25" >0.40</text>
<text transform="translate(311.9 473.37) scale(1 1.08)" font-size="7.65" text-anchor="end" fill="#2b2b2b" stroke="#2b2b2b" stroke-width="0.25" >0.60</text>
<text transform="translate(311.9 452.17) scale(1 1.08)" font-size="7.65" text-anchor="end" fill="#2b2b2b" stroke="#2b2b2b" stroke-width="0.25" >0.80</text>
<text transform="translate(311.9 430.97) scale(1 1.08)" font-size="7.65" text-anchor="end" fill="#2b2b2b" stroke="#2b2b2b" stroke-width="0.25" >1.00</text>
<text transform="translate(325.45 555.27) scale(1 1.08)" font-size="7.65" text-anchor="middle" fill="#2b2b2b" stroke="#2b2b2b" stroke-width="0.25" >0</text>
<text transform="translate(325.45 596.07) scale(1 1.08)" font-size="7.65" text-anchor="middle" fill="#2b2b2b" stroke="#2b2b2b" stroke-width="0.25" >77</text>
<text transform="translate(355.54 555.27) scale(1 1.08)" font-size="7.65" text-anchor="middle" fill="#2b2b2b" stroke="#2b2b2b" stroke-width="0.25" >2</text>
<text transform="translate(355.54 596.07) scale(1 1.08)" font-size="7.65" text-anchor="middle" fill="#2b2b2b" stroke="#2b2b2b" stroke-width="0.25" >68</text>
<text transform="translate(385.63 555.27) scale(1 1.08)" font-size="7.65" text-anchor="middle" fill="#2b2b2b" stroke="#2b2b2b" stroke-width="0.25" >4</text>
<text transform="translate(385.63 596.07) scale(1 1.08)" font-size="7.65" text-anchor="middle" fill="#2b2b2b" stroke="#2b2b2b" stroke-width="0.25" >58</text>
<text transform="translate(415.73 555.27) scale(1 1.08)" font-size="7.65" text-anchor="middle" fill="#2b2b2b" stroke="#2b2b2b" stroke-width="0.25" >6</text>
<text transform="translate(415.73 596.07) scale(1 1.08)" font-size="7.65" text-anchor="middle" fill="#2b2b2b" stroke="#2b2b2b" stroke-width="0.25" >53</text>
<text transform="translate(445.82 555.27) scale(1 1.08)" font-size="7.65" text-anchor="middle" fill="#2b2b2b" stroke="#2b2b2b" stroke-width="0.25" >8</text>
<text transform="translate(445.82 596.07) scale(1 1.08)" font-size="7.65" text-anchor="middle" fill="#2b2b2b" stroke="#2b2b2b" stroke-width="0.25" >46</text>
<text transform="translate(475.91 555.27) scale(1 1.08)" font-size="7.65" text-anchor="middle" fill="#2b2b2b" stroke="#2b2b2b" stroke-width="0.25" >10</text>
<text transform="translate(475.91 596.07) scale(1 1.08)" font-size="7.65" text-anchor="middle" fill="#2b2b2b" stroke="#2b2b2b" stroke-width="0.25" >45</text>
<text transform="translate(506 555.27) scale(1 1.08)" font-size="7.65" text-anchor="middle" fill="#2b2b2b" stroke="#2b2b2b" stroke-width="0.25" >12</text>
<text transform="translate(506 596.07) scale(1 1.08)" font-size="7.65" text-anchor="middle" fill="#2b2b2b" stroke="#2b2b2b" stroke-width="0.25" >27</text>
<path d="M316.4 534.5H319.9M316.4 513.3H319.9M316.4 492.1H319.9M316.4 470.9H319.9M316.4 449.7H319.9M316.4 428.5H319.9M325.45 540.15V544.15M355.54 540.15V544.15M385.63 540.15V544.15M415.73 540.15V544.15M445.82 540.15V544.15M475.91 540.15V544.15M506 540.15V544.15" fill="none" stroke="#222" stroke-width="1"/>
<text transform="translate(295.4 583.67) scale(1 1.08)" font-size="7.65" fill="#2b2b2b" stroke="#2b2b2b" stroke-width="0.25" >At risk</text>
<text transform="translate(365.8 569.6) scale(0.7256 1)" font-size="10.0" fill="#2b2b2b" stroke="#2b2b2b" stroke-width="0.482" word-spacing="0.8" textLength="137.68" lengthAdjust="spacing">Time from transplant (months)</text>
<text transform="translate(290 485.4) rotate(-90) scale(0.6372 1)" font-size="10.0" fill="#2b2b2b" stroke="#2b2b2b" stroke-width="0.549" word-spacing="0.8" textLength="27.78" lengthAdjust="spacing">GRFS</text>
<path d="M430 512.8H463.5" stroke="#aa1a40" stroke-width="1.55" fill="none"/>
<path d="M430 528.9H463.5" stroke="#aa1a40" stroke-width="1.55" fill="none" stroke-dasharray="10 5.5"/>
<text transform="translate(467.7 515.67) scale(1 1.08)" font-size="7.65" fill="#2b2b2b" stroke="#2b2b2b" stroke-width="0.25" >GRFS</text>
<text transform="translate(467.7 531.77) scale(1 1.08)" font-size="7.65" fill="#2b2b2b" stroke="#2b2b2b" stroke-width="0.25" >95% CI</text>
<path d="M336.58 429.03H343.2V430.73H347.27V432H354.64V434.54H360.51V435.5H368.03V439.31H375.85V440.69H381.42V442.17H385.63V445.14H393.16V446.1H400.68V448H408.2V450.87H416.18V452.77H426.56V455.53H434.08V459.03H458.15V459.98H486.44V461.04H502.54V462.95H506" stroke="#aa1a40" stroke-width="1.55" fill="none" stroke-dasharray="10 5"/>
<path d="M333.73 437.83H338.54V439.31H344.26V443.13H349.07V446.1H354.04V448.96H357.8V451.93H364.57V454.79H367.43V459.66H372.09V460.72H383.68V465.49H393.16V467.4H400.68V470.26H408.2V473.66H419.64V475.56H431.22V479.38H434.98V482.35H459.96V483.3H490.8V484.57H502.24V486.48H506" stroke="#aa1a40" stroke-width="1.55" fill="none" stroke-dasharray="10 5"/>
<path d="M325.45 428.5H336.58V429.77H339.44V431.68H342.3V434.54H345.31V436.56H351.03V438.46H354.04V440.48H358.85V441.43H363.52V443.23H367.43V447.16H372.09V449.06H381.87V450.12H385.63V454.05H393.16V455.32H400.68V457.86H408.2V460.72H417.68V463.06H425.35V464.96H433.93V468.78H461.92V470.79H492.61V472.28H504.19V474.19H506" stroke="#aa1a40" stroke-width="1.55" fill="none"/>
<text x="9.15" y="624.8" font-size="14.5" fill="#111" font-weight="bold" stroke="#111" stroke-width="0.35" >G</text>
<path d="M63.3 624V741.5H253.5" fill="none" stroke="#111" stroke-width="1.2"/>
<text transform="translate(55.3 738.57) scale(1 1.08)" font-size="7.65" text-anchor="end" fill="#2b2b2b" stroke="#2b2b2b" stroke-width="0.25" >0.00</text>
<text transform="translate(55.3 717.32) scale(1 1.08)" font-size="7.65" text-anchor="end" fill="#2b2b2b" stroke="#2b2b2b" stroke-width="0.25" >0.20</text>
<text transform="translate(55.3 696.07) scale(1 1.08)" font-size="7.65" text-anchor="end" fill="#2b2b2b" stroke="#2b2b2b" stroke-width="0.25" >0.40</text>
<text transform="translate(55.3 674.82) scale(1 1.08)" font-size="7.65" text-anchor="end" fill="#2b2b2b" stroke="#2b2b2b" stroke-width="0.25" >0.60</text>
<text transform="translate(55.3 653.57) scale(1 1.08)" font-size="7.65" text-anchor="end" fill="#2b2b2b" stroke="#2b2b2b" stroke-width="0.25" >0.80</text>
<text transform="translate(55.3 632.32) scale(1 1.08)" font-size="7.65" text-anchor="end" fill="#2b2b2b" stroke="#2b2b2b" stroke-width="0.25" >1.00</text>
<text transform="translate(68.85 756.17) scale(1 1.08)" font-size="7.65" text-anchor="middle" fill="#2b2b2b" stroke="#2b2b2b" stroke-width="0.25" >0</text>
<text transform="translate(68.85 796.97) scale(1 1.08)" font-size="7.65" text-anchor="middle" fill="#2b2b2b" stroke="#2b2b2b" stroke-width="0.25" >77</text>
<text transform="translate(98.66 756.17) scale(1 1.08)" font-size="7.65" text-anchor="middle" fill="#2b2b2b" stroke="#2b2b2b" stroke-width="0.25" >2</text>
<text transform="translate(98.66 796.97) scale(1 1.08)" font-size="7.65" text-anchor="middle" fill="#2b2b2b" stroke="#2b2b2b" stroke-width="0.25" >72</text>
<text transform="translate(128.47 756.17) scale(1 1.08)" font-size="7.65" text-anchor="middle" fill="#2b2b2b" stroke="#2b2b2b" stroke-width="0.25" >4</text>
<text transform="translate(128.47 796.97) scale(1 1.08)" font-size="7.65" text-anchor="middle" fill="#2b2b2b" stroke="#2b2b2b" stroke-width="0.25" >69</text>
<text transform="translate(158.27 756.17) scale(1 1.08)" font-size="7.65" text-anchor="middle" fill="#2b2b2b" stroke="#2b2b2b" stroke-width="0.25" >6</text>
<text transform="translate(158.27 796.97) scale(1 1.08)" font-size="7.65" text-anchor="middle" fill="#2b2b2b" stroke="#2b2b2b" stroke-width="0.25" >68</text>
<text transform="translate(188.08 756.17) scale(1 1.08)" font-size="7.65" text-anchor="middle" fill="#2b2b2b" stroke="#2b2b2b" stroke-width="0.25" >8</text>
<text transform="translate(188.08 796.97) scale(1 1.08)" font-size="7.65" text-anchor="middle" fill="#2b2b2b" stroke="#2b2b2b" stroke-width="0.25" >64</text>
<text transform="translate(217.89 756.17) scale(1 1.08)" font-size="7.65" text-anchor="middle" fill="#2b2b2b" stroke="#2b2b2b" stroke-width="0.25" >10</text>
<text transform="translate(217.89 796.97) scale(1 1.08)" font-size="7.65" text-anchor="middle" fill="#2b2b2b" stroke="#2b2b2b" stroke-width="0.25" >60</text>
<text transform="translate(247.7 756.17) scale(1 1.08)" font-size="7.65" text-anchor="middle" fill="#2b2b2b" stroke="#2b2b2b" stroke-width="0.25" >12</text>
<text transform="translate(247.7 796.97) scale(1 1.08)" font-size="7.65" text-anchor="middle" fill="#2b2b2b" stroke="#2b2b2b" stroke-width="0.25" >38</text>
<path d="M59.8 736.1H63.3M59.8 714.85H63.3M59.8 693.6H63.3M59.8 672.35H63.3M59.8 651.1H63.3M59.8 629.85H63.3M68.85 741.5V745.5M98.66 741.5V745.5M128.47 741.5V745.5M158.27 741.5V745.5M188.08 741.5V745.5M217.89 741.5V745.5M247.7 741.5V745.5" fill="none" stroke="#222" stroke-width="1"/>
<text transform="translate(39 784.37) scale(1 1.08)" font-size="7.65" fill="#2b2b2b" stroke="#2b2b2b" stroke-width="0.25" >At risk</text>
<text transform="translate(108.8 771.2) scale(0.7205 1)" font-size="10.0" fill="#2b2b2b" stroke="#2b2b2b" stroke-width="0.486" word-spacing="0.8" textLength="137.68" lengthAdjust="spacing">Time from transplant (months)</text>
<text transform="translate(33.9 681.9) rotate(-90) scale(0.5606 1)" font-size="10.0" fill="#2b2b2b" stroke="#2b2b2b" stroke-width="0.624" word-spacing="0.8" textLength="14.45" lengthAdjust="spacing">OS</text>
<path d="M140.3 714.1H173.8" stroke="#aa1a40" stroke-width="1.55" fill="none"/>
<path d="M140.3 730.2H173.8" stroke="#aa1a40" stroke-width="1.55" fill="none" stroke-dasharray="10 5.5"/>
<text transform="translate(178 716.97) scale(1 1.08)" font-size="7.65" fill="#2b2b2b" stroke="#2b2b2b" stroke-width="0.25" >Overall survival</text>
<text transform="translate(178 733.07) scale(1 1.08)" font-size="7.65" fill="#2b2b2b" stroke="#2b2b2b" stroke-width="0.25" >95% CI</text>
<path d="M85.24 630.91H93.89V631.87H99.55V633.46H111.03V634.74H157.23V635.8H171.09V637.08H188.38V638.14H201.94V639.41H207.76V641.01H228.92V642.92H234.58V644.73H247.7" stroke="#aa1a40" stroke-width="1.55" fill="none" stroke-dasharray="10 5"/>
<path d="M86.14 639.31H91.8V640.69H97.62V643.98H103.43V645.47H109.24V647.81H114.01V649.72H155.29V651.31H167.22V652.16H182.87V653.23H198.07V655.14H207.76V658.01H221.17V659.92H228.92V661.83H234.58V664.7H247.7" stroke="#aa1a40" stroke-width="1.55" fill="none" stroke-dasharray="10 5"/>
<path d="M68.85 629.85H85.24V630.91H90.01V632.19H93.89V633.78H96.72V635.27H101.64V636.54H107.3V637.92H113.12V639.41H157.23V640.69H169.16V642.18H188.38V643.66H201.94V645.15H205.82V646.43H213.42V648.02H225.05V648.87H230.86V650.89H235.78V652.8H247.7" stroke="#aa1a40" stroke-width="1.55" fill="none"/>
</svg>
</body></html>
